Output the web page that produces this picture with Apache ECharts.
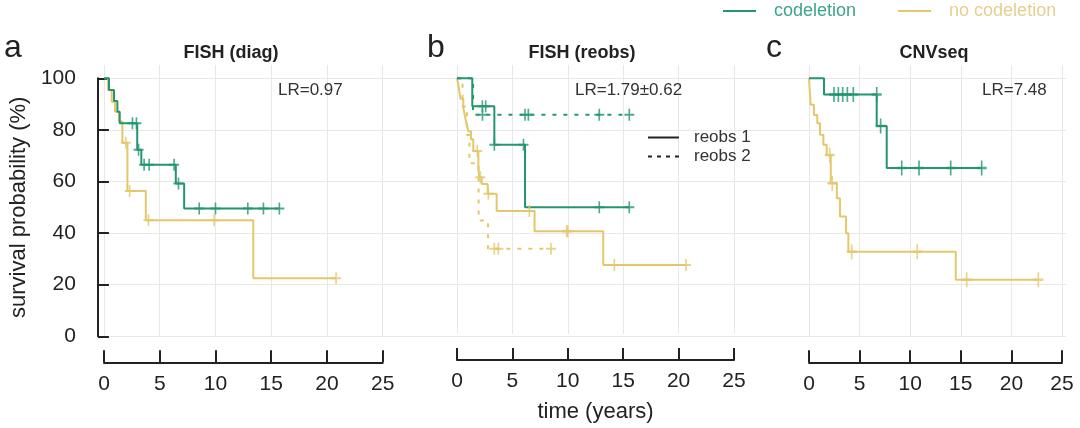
<!DOCTYPE html>
<html><head><meta charset="utf-8">
<script src="https://cdn.jsdelivr.net/npm/echarts@6/dist/echarts.min.js"></script>
<style>html,body{margin:0;padding:0;background:#fff}#c{width:1080px;height:428px}</style>
</head><body><div id="c"></div>
<script>
// ---------- data (time in years, survival in %) ----------
const xTickValues = [0, 5, 10, 15, 20, 25];
const yTickValues = [0, 20, 40, 60, 80, 100];

// panel a: FISH (diag)
const diagCodel = [[0,100],[0.45,95.5],[0.9,91.2],[1.2,87.0],[1.41,82.6],[2.98,72.3],[3.35,66.5],[6.44,59.2],[7.19,49.5],[15.73,49.5]];
const diagCodelCens = [[2.55,82.6],[2.91,82.6],[3.1,72.3],[3.6,66.5],[4.05,66.5],[6.29,66.5],[6.68,59.2],[8.54,49.5],[10.0,49.5],[12.9,49.5],[14.3,49.5],[15.73,49.5]];
const diagNoCodel = [[0,100],[0.36,95.5],[0.69,90.9],[0.99,87.0],[1.35,83.3],[1.65,75.0],[2.1,56.3],[3.75,45.0],[13.39,22.5],[20.82,22.5]];
const diagNoCodelCens = [[1.95,75.0],[2.3,56.3],[3.99,45.0],[9.88,45.0],[20.82,22.5]];

// panel b: FISH (reobs) — reobs 1 (solid), reobs 2 (dashed)
const reobs1Codel = [[0,100],[1.38,89.0],[3.37,74.0],[6.14,49.5],[15.55,49.5]];
const reobs1CodelCens = [[2.29,89.0],[2.59,89.0],[3.37,74.0],[6.0,74.0],[12.84,49.5],[15.55,49.5]];
const reobs2Codel = [[0,100],[1.45,85.7],[15.55,85.7]];
const reobs2CodelCens = [[2.3,85.7],[6.14,85.7],[6.44,85.7],[12.84,85.7],[15.55,85.7]];
const reobs1NoCodel = [[0,100],[0.18,96.0],[0.3,92.0],[0.57,88.4],[0.72,85.1],[0.87,81.9],[1.02,79.3],[1.26,76.1],[1.47,71.5],[1.93,64.5],[2.02,61.3],[2.23,58.6],[2.77,54.8],[3.58,48.1],[7.0,40.2],[13.2,27.0],[20.67,27.0]];
const reobs1NoCodelCens = [[1.83,71.5],[2.1,61.3],[2.83,54.8],[6.53,48.1],[9.9,40.2],[10.0,40.2],[14.2,27.0],[20.67,27.0]];
const reobs2NoCodel = [[0,100],[0.5,88.9],[0.9,77.8],[1.12,66.7],[1.95,44.4],[2.8,33.3],[8.48,33.3]];
const reobs2NoCodelCens = [[3.37,33.3],[3.73,33.3],[8.48,33.3]];

// panel c: CNVseq
const cnvCodel = [[0,100],[1.48,93.75],[6.69,81.5],[7.68,65.2],[17.06,65.2]];
const cnvCodelCens = [[2.47,93.75],[2.9,93.75],[3.33,93.75],[3.79,93.75],[4.38,93.75],[6.69,93.75],[7.08,81.5],[9.16,65.2],[10.87,65.2],[14.0,65.2],[17.06,65.2]];
const cnvNoCodel = [[0,100],[0.16,89.7],[0.49,85.8],[0.82,82.6],[1.09,78.1],[1.42,74.2],[1.75,70.3],[2.15,59.3],[2.75,53.5],[3.06,46.4],[3.66,39.9],[3.89,32.8],[14.5,21.9],[22.66,21.9]];
const cnvNoCodelCens = [[2.05,70.3],[2.3,59.3],[4.22,32.8],[10.7,32.8],[15.58,21.9],[22.66,21.9]];

const panelTitles = ['FISH (diag)', 'FISH (reobs)', 'CNVseq'];
const panelLetters = ['a', 'b', 'c'];
const lrLabels = ['LR=0.97', 'LR=1.79±0.62', 'LR=7.48'];
const groupNames = ['codeletion', 'no codeletion'];
const reobsNames = ['reobs 1', 'reobs 2'];
const xName = 'time (years)';
const yName = 'survival probability (%)';

// ---------- layout / style ----------
const FONT = "'Liberation Sans', Arial, sans-serif";
const GREEN = '#23966f', YELLOW = '#e5c76b';
const INK = '#222', GRIDC = '#e8e8e8';
const Y100 = 78.3, Y0 = 336.3, TOPX = 65;
const panels = [{l:104, r:382.7}, {l:457, r:734}, {l:809, r:1062}];
const yMaxPanel = 100 * (Y0 - TOPX) / (Y0 - Y100);
const PLUS = 'path://M-1,-6H1V-1H6V1H1V6H-1V1H-6V-1H-1Z';

const grids = [{left:90, width:976, top:Y100, height:Y0-Y100}];
panels.forEach(p => grids.push({left:p.l, width:p.r-p.l, top:TOPX, height:Y0-TOPX}));

const xAxes = [{type:'value', gridIndex:0, min:0, max:1, show:false}];
const yAxes = [{
  type:'value', gridIndex:0, min:yTickValues[0], max:yTickValues[yTickValues.length-1], interval:20, offset:10,
  axisLine:{show:true, lineStyle:{color:INK, width:2}},
  axisTick:{show:true, inside:true, length:11, lineStyle:{color:INK, width:2}},
  axisLabel:{fontSize:21, color:INK, margin:12, fontFamily:FONT},
  splitLine:{show:true, lineStyle:{color:GRIDC, width:1}},
  name:yName, nameLocation:'middle', nameRotate:90, nameGap:50,
  nameTextStyle:{fontSize:22, color:INK, fontFamily:FONT}
}];
panels.forEach((p, i) => {
  xAxes.push({
    type:'value', gridIndex:i+1, min:xTickValues[0], max:xTickValues[xTickValues.length-1], interval:5, offset:26,
    axisLine:{show:true, onZero:false, lineStyle:{color:INK, width:2}},
    axisTick:{show:true, inside:true, length:12, lineStyle:{color:INK, width:2}},
    axisLabel:{fontSize:21, color:INK, margin:11, fontFamily:FONT},
    splitLine:{show:true, lineStyle:{color:GRIDC, width:1}},
    name: i === 1 ? xName : '', nameLocation:'middle', nameGap:41,
    nameTextStyle:{fontSize:22, color:INK, fontFamily:FONT}
  });
  yAxes.push({type:'value', gridIndex:i+1, min:0, max:yMaxPanel, show:false, splitLine:{show:false}});
});

function km(name, data, ax, color, dash) {
  return {type:'line', name, xAxisIndex:ax, yAxisIndex:ax, data, step:'end', symbol:'none',
    lineStyle:{color, width:2, type: dash || 'solid'}, itemStyle:{color}, silent:true, z:3};
}
function cens(name, data, ax, color, size) {
  return {type:'scatter', name, xAxisIndex:ax, yAxisIndex:ax, data, symbol:PLUS, symbolSize:size,
    itemStyle:{color}, silent:true, z:4};
}
const S = [10, 12], SC = [10, 15];
const DASH = [4, 7];

function legendSeries(name, ax, color, type) {
  return {type:'line', name, data:[], xAxisIndex:ax, yAxisIndex:ax, symbol:'none',
    lineStyle:{color, width:2, type}, itemStyle:{color:'rgba(0,0,0,0)', borderColor:'rgba(0,0,0,0)', borderWidth:0}};
}

const series = [
  legendSeries(groupNames[0], 1, GREEN, 'solid'),
  legendSeries(groupNames[1], 1, YELLOW, 'solid'),
  legendSeries(reobsNames[0], 2, INK, 'solid'),
  legendSeries(reobsNames[1], 2, INK, [4, 5]),
  km('a-n', diagNoCodel, 1, YELLOW), cens('a-nc', diagNoCodelCens, 1, YELLOW, S),
  km('a-c', diagCodel, 1, GREEN), cens('a-cc', diagCodelCens, 1, GREEN, S),
  km('b-n2', reobs2NoCodel, 2, YELLOW, DASH), cens('b-n2c', reobs2NoCodelCens, 2, YELLOW, S),
  km('b-n1', reobs1NoCodel, 2, YELLOW), cens('b-n1c', reobs1NoCodelCens, 2, YELLOW, S),
  km('b-c2', reobs2Codel, 2, GREEN, DASH), cens('b-c2c', reobs2CodelCens, 2, GREEN, S),
  km('b-c1', reobs1Codel, 2, GREEN), cens('b-c1c', reobs1CodelCens, 2, GREEN, S),
  km('c-n', cnvNoCodel, 3, YELLOW), cens('c-nc', cnvNoCodelCens, 3, YELLOW, SC),
  km('c-c', cnvCodel, 3, GREEN), cens('c-cc', cnvCodelCens, 3, GREEN, SC)
];

const titlePos = [231, 582, 934];
const letterPos = [4, 427, 766];
const lrPos = [278, 575, 982];
const titles = [];
for (let i = 0; i < 3; i++) {
  titles.push({text:panelLetters[i], left:letterPos[i], top:32, padding:0,
    textStyle:{fontSize:32, fontWeight:'normal', color:INK, fontFamily:FONT}});
  titles.push({text:panelTitles[i], left:titlePos[i], top:44, padding:0, textAlign:'center',
    textStyle:{fontSize:18, fontWeight:'bold', color:INK, fontFamily:FONT}});
  titles.push({text:lrLabels[i], left:lrPos[i], top:82, padding:0,
    textStyle:{fontSize:17, fontWeight:'normal', color:'#333', fontFamily:FONT}});
}

const hiddenMark = {color:'rgba(0,0,0,0)', borderColor:'rgba(0,0,0,0)', borderWidth:0};
const option = {
  animation:false,
  backgroundColor:'#fff',
  title: titles,
  grid: grids,
  xAxis: xAxes,
  yAxis: yAxes,
  legend: [
    {data:[{name:groupNames[0], textStyle:{color:'#3aa58a'}}, {name:groupNames[1], textStyle:{color:'#e6cf8e'}}],
     left:722, top:2, padding:0, itemWidth:33, itemHeight:18, itemGap:41, selectedMode:false,
     itemStyle:hiddenMark,
     textStyle:{fontSize:18, fontFamily:FONT, padding:[0,0,0,13]}},
    {data:reobsNames, orient:'vertical', left:647, top:129, padding:0, itemWidth:31, itemHeight:20, itemGap:2,
     selectedMode:false, itemStyle:hiddenMark,
     textStyle:{fontSize:17, color:'#333', fontFamily:FONT, padding:[0,0,0,10]}}
  ],
  series
};
const chart = echarts.init(document.getElementById('c'), null, {renderer:'canvas'});
chart.setOption(option);
</script>
</body></html>
